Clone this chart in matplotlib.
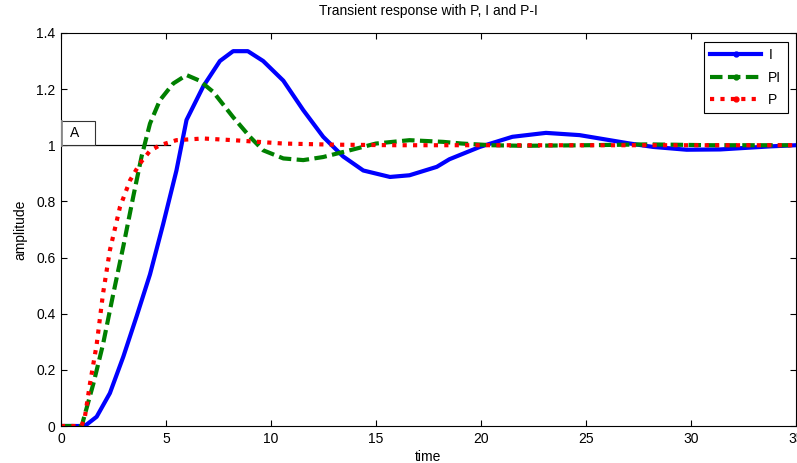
import numpy as np
import matplotlib.pyplot as plt
from matplotlib.lines import Line2D
from matplotlib.patches import Rectangle

plt.rcParams['font.family'] = ['Liberation Sans', 'DejaVu Sans']
plt.rcParams['font.size'] = 10

# step responses read per controller (time, amplitude)
t_i = [0, 1.0, 1.22, 1.7, 2.33, 2.97, 3.6, 4.24, 4.87, 5.5, 5.98, 6.78, 7.57, 8.2, 8.9,
       9.63, 10.59, 11.54, 12.49, 13.44, 14.4, 15.67, 16.6, 17.9, 18.5, 19.95, 21.5,
       23.1, 24.7, 27.1, 28.2, 29.8, 31.4, 33.8, 35]
amp_i = [0, 0, 0.005, 0.033, 0.117, 0.247, 0.39, 0.54, 0.72, 0.91, 1.09, 1.21, 1.30, 1.335, 1.335,
         1.30, 1.23, 1.125, 1.03, 0.96, 0.91, 0.887, 0.893, 0.923, 0.95, 0.994, 1.03,
         1.044, 1.036, 1.006, 0.994, 0.984, 0.985, 0.996, 1.0]

t_pi = [0, 1.0, 1.06, 1.54, 2.0, 2.49, 2.97, 3.44, 3.84, 4.24, 4.71, 5.35, 5.98, 6.6, 7.25,
        8.2, 9.0, 9.63, 10.59, 11.54, 12.49, 13.76, 15.0, 16.6, 18.2, 19.1, 20.5, 22,
        25, 28, 31, 35]
amp_pi = [0, 0, 0.02, 0.15, 0.29, 0.47, 0.64, 0.816, 0.96, 1.077, 1.16, 1.22, 1.25, 1.23, 1.19,
          1.10, 1.03, 0.982, 0.953, 0.947, 0.958, 0.982, 1.006, 1.018, 1.012, 1.006, 1.0, 0.998,
          1.0, 1.003, 1.0, 1.0]

t_p = [0, 0.98, 1.14, 1.38, 1.7, 2.0, 2.33, 2.81, 3.29, 3.76, 4.24, 4.71, 5.5, 6.78, 8.2,
       10.6, 13, 16, 20, 25, 30, 35]
amp_p = [0, 0, 0.033, 0.15, 0.29, 0.47, 0.626, 0.78, 0.875, 0.935, 0.98, 1.0, 1.018, 1.024, 1.018,
         1.006, 1.002, 1.0, 1.0, 1.0, 1.0, 1.0]

labels = ['I', 'PI', 'P']
x_ticks = [0, 5, 10, 15, 20, 25, 30, 35]
y_ticks = [0, 0.2, 0.4, 0.6, 0.8, 1, 1.2, 1.4]

fig = plt.figure(figsize=(7.97, 4.63), dpi=100)
ax = fig.add_axes([0.0765, 0.0799, 0.922, 0.849])

styles = [dict(color='#0000ff', linestyle='-'),
          dict(color='#008000', dashes=(3, 1.3)),
          dict(color='#ff0000', dashes=(1, 1.5))]

# reference level and marker box at amplitude 1
ax.plot([0, 5.2], [1, 1], color='black', lw=0.9)
ax.add_patch(Rectangle((0, 1), 1.6, 0.088, fc='white', ec='#333333', lw=0.8, zorder=3))
ax.plot([0.02, 0.02], [1, 1.088], color='#888888', lw=2, zorder=4)
ax.text(0.65, 1.044, 'A', ha='center', va='center', fontsize=10, zorder=5)

for (t, a), st in zip([(t_i, amp_i), (t_pi, amp_pi), (t_p, amp_p)], styles):
    ax.plot(t, a, lw=3, dash_capstyle='butt', **st)

handles = [Line2D([], [], lw=3, marker='.', ms=7, dash_capstyle='butt', **st) for st in styles]
leg = ax.legend(handles, labels, loc='upper right', bbox_to_anchor=(0.989, 0.977),
                borderaxespad=0, handlelength=3.7, numpoints=1, fancybox=False, framealpha=1,
                borderpad=0.45, labelspacing=0.6, handletextpad=0.5, fontsize=10)
leg.get_frame().set_edgecolor('black')
leg.get_frame().set_linewidth(0.8)

ax.set_xlim(0, 35)
ax.set_ylim(0, 1.4)
ax.set_xticks(x_ticks)
ax.set_yticks(y_ticks)
ax.set_yticklabels(['0', '0.2', '0.4', '0.6', '0.8', '1', '1.2', '1.4'])
ax.tick_params(direction='in', top=True, right=True, length=4, width=0.8, pad=4)
for sp in ax.spines.values():
    sp.set_linewidth(0.8)

ax.set_title('Transient response with P, I and P-I', fontsize=10, pad=13)
ax.set_xlabel('time', labelpad=3)
ax.set_ylabel('amplitude', labelpad=6)

fig.savefig('out.png', dpi=100)
